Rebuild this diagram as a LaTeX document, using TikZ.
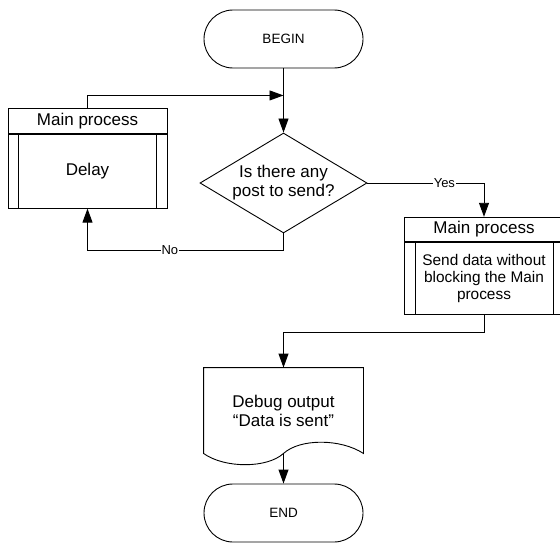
\documentclass[tikz,border=0pt]{standalone}
\usepackage{fontspec}
\setmainfont{Liberation Sans}
\usetikzlibrary{positioning,shapes.geometric,arrows.meta,calc}

\begin{document}
\begin{tikzpicture}[
      x=1pt, y=-1pt,
      line width=0.9pt,
      every node/.style={
        font=\fontsize{17}{19}\selectfont
      },
      term/.style={
        draw,
        rectangle,
        rounded corners=29pt,
        minimum width=159pt,
        minimum height=58pt,
        font=\fontsize{13.5}{15}\selectfont
      },
      decision/.style={
        draw,
        diamond,
        aspect=1.67,
        inner sep=0pt,
        minimum width=167pt,
        minimum height=100pt,
        align=center
      },
      hdr/.style={
        draw,
        rectangle,
        minimum width=159pt,
        minimum height=24.5pt,
        inner sep=0pt
      },
      subproc/.style={
        draw,
        rectangle,
        minimum width=159pt,
        inner sep=0pt,
        align=center,
        path picture={
          \draw ([xshift=10.5pt]path picture bounding box.north west) -- ([xshift=10.5pt]path picture bounding box.south west)
                ([xshift=-10.5pt]path picture bounding box.north east) -- ([xshift=-10.5pt]path picture bounding box.south east);
        }
      },
      docu/.style={
        rectangle,
        minimum width=159pt,
        minimum height=85pt,
        align=center
      },
      arr/.style={
        -{Triangle[length=14pt,width=10pt]}
      },
      lbl/.style={
        fill=white,
        inner sep=1pt,
        font=\fontsize{13}{14}\selectfont
      }
    ]
    \useasboundingbox (0,0) rectangle (560,543);

    \node[term] (begin) at (283.5,39) {BEGIN} ;
    \node[decision] (ask) at (283.5,183) {Is there any\\post to send?} ;

    \node[hdr] (hdrL) at (87.5,121) {Main process} ;
    \node[subproc, minimum height=74pt, below=0pt of hdrL] (delay) {Delay} ;

    \node[hdr] (hdrR) at (484,229.5) {Main process} ;
    \node[subproc, minimum height=72pt, below=0pt of hdrR,
          font=\fontsize{15.4}{17}\selectfont] (send) {Send data without\\blocking the Main\\process} ;

    \node[docu] (doc) at (283.5,410.5) {Debug output\\“Data is sent”} ;
    \draw (doc.south west) -- (doc.north west) -- (doc.north east) -- (doc.south east)
          .. controls +(-23,-15) and +(16.5,-15) .. (doc.south)
          .. controls +(-16.5,15) and +(21,15) .. (doc.south west) -- cycle ;

    \node[term] (end) at (283.5,513) {END} ;

    \coordinate (join) at ($(begin.south)+(0,27)$) ;

    \draw[arr] (begin) -- (ask) ;
    \draw[arr] (hdrL.north) |- (join) ;
    \draw[arr] (ask.south) -- ++(0,17) -| node[lbl, pos=0.29] {No} (delay.south) ;
    \draw[arr] (ask.east) -| node[lbl, pos=0.33] {Yes} (hdrR.north) ;
    \draw[arr] (send.south) -- ++(0,17) -| (doc.north) ;
    \draw[arr] (doc.south) -- (end) ;
  \end{tikzpicture}
\end{document}
